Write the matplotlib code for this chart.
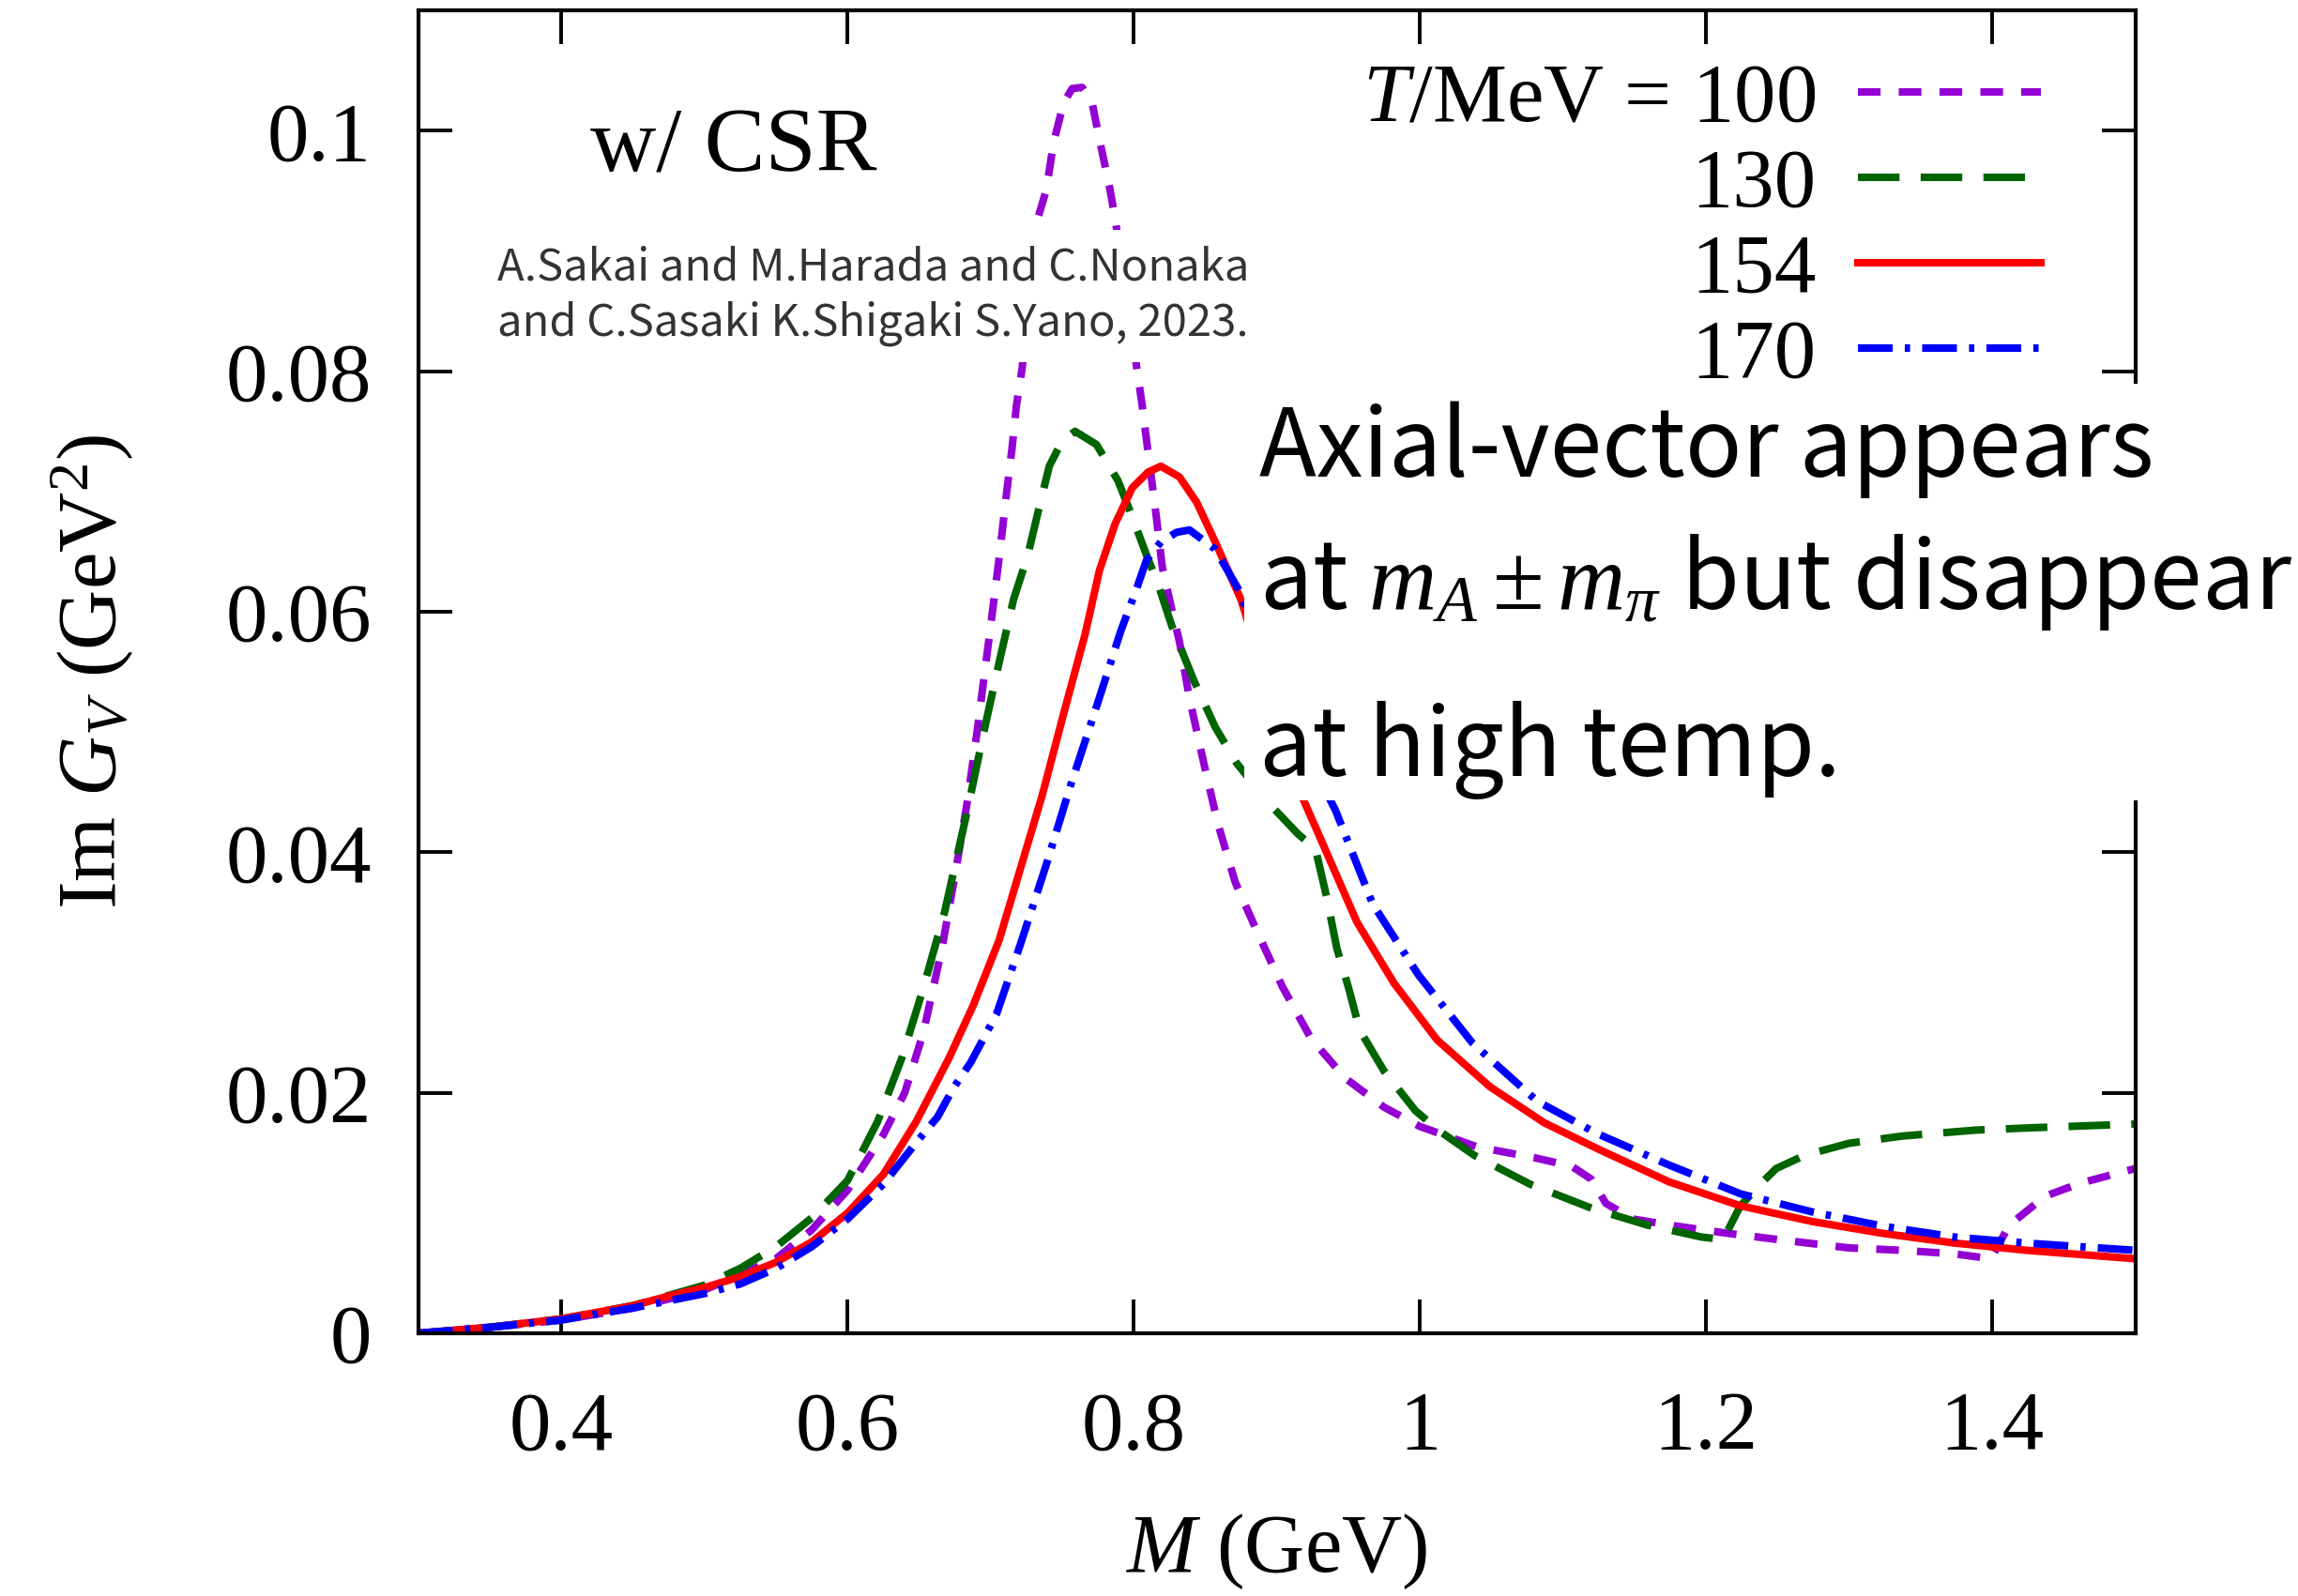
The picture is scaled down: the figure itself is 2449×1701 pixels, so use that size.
import numpy as np
import matplotlib
matplotlib.use("Agg")
import matplotlib.pyplot as plt
from matplotlib.patches import Rectangle

plt.rcParams['font.family'] = ['Liberation Serif', 'DejaVu Serif']
plt.rcParams['mathtext.fontset'] = 'custom'
plt.rcParams['mathtext.rm'] = 'Liberation Serif'
plt.rcParams['mathtext.it'] = 'Liberation Serif:italic'
plt.rcParams['mathtext.bf'] = 'Liberation Serif:bold'

# T = 100 MeV
m_100 = [0.30, 0.35, 0.40, 0.45, 0.50, 0.55, 0.575, 0.60, 0.625, 0.64, 0.653, 0.666,
         0.676, 0.684, 0.691, 0.696, 0.701, 0.706, 0.711, 0.715, 0.718, 0.722, 0.733,
         0.739, 0.744, 0.751, 0.757, 0.764, 0.771, 0.776, 0.783, 0.787, 0.802, 0.806,
         0.810, 0.8155, 0.820, 0.827, 0.832, 0.839, 0.849, 0.859, 0.871, 0.884, 0.904,
         0.924, 0.948, 0.975, 1.00, 1.04, 1.08, 1.106, 1.12, 1.13, 1.149, 1.18, 1.216,
         1.25, 1.30, 1.337, 1.374, 1.399, 1.412, 1.437, 1.462, 1.50]
g_100 = [0.0, 0.0005, 0.0011, 0.0021, 0.0036, 0.0062, 0.0086, 0.0119, 0.0165, 0.0200,
         0.0250, 0.0320, 0.0387, 0.0444, 0.0504, 0.0551, 0.0597, 0.0645, 0.0697, 0.0736,
         0.0771, 0.0802, 0.0927, 0.0951, 0.0990, 0.1023, 0.1035, 0.1036, 0.1023, 0.0993,
         0.0954, 0.0927, 0.0804, 0.0771, 0.0733, 0.0682, 0.0637, 0.0600, 0.0575, 0.0528,
         0.0474, 0.0423, 0.0375, 0.0340, 0.0288, 0.0245, 0.0212, 0.0188, 0.0172, 0.0155,
         0.0146, 0.0139, 0.0128, 0.0108, 0.0095, 0.0089, 0.0083, 0.0078, 0.0071, 0.0069,
         0.0066, 0.0062, 0.0090, 0.0114, 0.0125, 0.0137]

# T = 130 MeV
m_130 = [0.30, 0.35, 0.40, 0.45, 0.50, 0.525, 0.55, 0.575, 0.60, 0.621, 0.638, 0.653,
         0.668, 0.684, 0.696, 0.706, 0.716, 0.726, 0.733, 0.741, 0.750, 0.759, 0.774,
         0.789, 0.799, 0.809, 0.817, 0.827, 0.842, 0.857, 0.872, 0.895, 0.915, 0.927,
         0.935, 0.942, 0.950, 0.958, 0.975, 0.997, 1.014, 1.038, 1.077, 1.12, 1.159,
         1.197, 1.212, 1.224, 1.238, 1.249, 1.269, 1.30, 1.337, 1.389, 1.43, 1.50]
g_130 = [0.0, 0.0005, 0.0012, 0.0023, 0.0040, 0.0054, 0.0072, 0.0096, 0.0127, 0.0176,
         0.0229, 0.0287, 0.0351, 0.0436, 0.0504, 0.0558, 0.0610, 0.0647, 0.0682, 0.0721,
         0.0742, 0.0750, 0.0739, 0.0709, 0.0679, 0.0647, 0.0623, 0.0587, 0.0543, 0.0504,
         0.0474, 0.0440, 0.0415, 0.0403, 0.0362, 0.0320, 0.0288, 0.0252, 0.0218, 0.0185,
         0.0168, 0.0148, 0.0124, 0.0104, 0.0090, 0.0080, 0.0078, 0.0106, 0.0124, 0.0137,
         0.0148, 0.0158, 0.0164, 0.0169, 0.0171, 0.0174]

# T = 154 MeV
m_154 = [0.30, 0.35, 0.40, 0.45, 0.475, 0.50, 0.525, 0.55, 0.575, 0.60, 0.625, 0.648,
         0.671, 0.688, 0.706, 0.721, 0.736, 0.751, 0.766, 0.776, 0.787, 0.799, 0.810,
         0.819, 0.832, 0.844, 0.857, 0.875, 0.90, 0.9185, 0.934, 0.956, 0.982, 1.012,
         1.049, 1.087, 1.125, 1.174, 1.224, 1.274, 1.324, 1.374, 1.424, 1.50]
g_154 = [0.0, 0.0005, 0.0012, 0.0023, 0.0031, 0.0038, 0.0047, 0.0059, 0.0076, 0.0100,
         0.0132, 0.0176, 0.0229, 0.0273, 0.0327, 0.0387, 0.0447, 0.0515, 0.0581, 0.0634,
         0.0673, 0.0703, 0.0716, 0.0721, 0.0712, 0.0691, 0.0658, 0.0610, 0.0515, 0.0444,
         0.0402, 0.0342, 0.0291, 0.0244, 0.0205, 0.0175, 0.0153, 0.0126, 0.0106, 0.0093,
         0.0083, 0.0075, 0.0069, 0.0062]

# T = 170 MeV
m_170 = [0.30, 0.35, 0.40, 0.45, 0.50, 0.525, 0.55, 0.575, 0.60, 0.625, 0.649, 0.663,
         0.674, 0.686, 0.704, 0.721, 0.739, 0.756, 0.774, 0.791, 0.802, 0.809, 0.819,
         0.830, 0.839, 0.857, 0.8745, 0.90, 0.941, 0.967, 0.999, 1.037, 1.082, 1.124,
         1.174, 1.224, 1.274, 1.324, 1.374, 1.424, 1.50]
g_170 = [0.0, 0.0005, 0.0011, 0.0021, 0.0033, 0.0041, 0.0054, 0.0072, 0.0095, 0.0124,
         0.0160, 0.0180, 0.0204, 0.0225, 0.0265, 0.0324, 0.0390, 0.0456, 0.0521, 0.0584,
         0.0619, 0.0643, 0.0658, 0.0666, 0.0668, 0.0652, 0.0616, 0.0530, 0.0435, 0.0357,
         0.0298, 0.0241, 0.0193, 0.0166, 0.0140, 0.0116, 0.0101, 0.0089, 0.0080, 0.0075,
         0.0069]

labels = [r"$T$/MeV = 100", "130", "154", "170"]
colors = ["#9400d3", "#006400", "#ff0000", "#0000ff"]
styles = [(0, (3, 2.4)), (0, (5.5, 2.8)), "-", (0, (4.6, 1.6, 0.7, 1.6))]

xticks = [0.4, 0.6, 0.8, 1.0, 1.2, 1.4]
xticklabels = ["0.4", "0.6", "0.8", "1", "1.2", "1.4"]
yticks = [0, 0.02, 0.04, 0.06, 0.08, 0.1]
yticklabels = ["0", "0.02", "0.04", "0.06", "0.08", "0.1"]

note_lines = ["Axial-vector appears", "at $m_A \\pm m_\\pi$ but disappear", "at high temp."]
note_y = [0.6475, 0.5475, 0.4213]

fig = plt.figure(figsize=(12.245, 8.505), dpi=200)
ax = fig.add_axes([0.182, 0.1646, 0.7472, 0.8289])

series = [(m_100, g_100), (m_130, g_130), (m_154, g_154), (m_170, g_170)]
for (m, g), lab, c, ls in zip(series, labels, colors, styles):
  ax.plot(m, g, color=c, linestyle=ls, linewidth=2.9, label=lab)

ax.set_xlim(0.3, 1.5)
ax.set_ylim(0, 0.11)
ax.set_xticks(xticks)
ax.set_xticklabels(xticklabels)
ax.set_yticks(yticks)
ax.set_yticklabels(yticklabels)
ax.tick_params(direction="in", length=13, width=1.4, labelsize=32,
               top=True, right=True)
ax.tick_params(axis="x", pad=22)
ax.tick_params(axis="y", pad=18)
for s in ax.spines.values():
  s.set_linewidth(1.5)

ax.set_xlabel(r"$M$ (GeV)", fontsize=32)
ax.set_ylabel(r"Im $G_V$ (GeV$^2$)", fontsize=32)
ax.xaxis.set_label_coords(0.5, -0.135)
ax.yaxis.set_label_coords(-0.165, 0.5)

ax.text(0.100, 0.895, "w/ CSR", transform=ax.transAxes, fontsize=35, va="center")

ax.text(0.046, 0.823, "A.Sakai and M.Harada and C.Nonaka\nand C.Sasaki K.Shigaki S.Yano, 2023.",
        transform=ax.transAxes, fontsize=17, color="#333333", va="top", linespacing=1.3,
        family=["Noto Sans CJK JP", "DejaVu Sans"],
        bbox=dict(facecolor="white", edgecolor="none", pad=6))

ax.legend(loc="upper right", bbox_to_anchor=(0.95, 0.967), markerfirst=False, frameon=False,
          fontsize=32, handlelength=2.2, handletextpad=0.5, labelspacing=0.11,
          borderpad=0.1, borderaxespad=0)

# white panel behind the note, running off the right edge
ax.add_patch(Rectangle((0.481, 0.4028), 0.6, 0.315, transform=ax.transAxes,
                       facecolor="white", edgecolor="none", clip_on=False, zorder=5))
for line, yy in zip(note_lines, note_y):
  ax.text(0.490, yy, line, transform=ax.transAxes, fontsize=36, color="black",
          va="baseline", family=["Noto Sans CJK JP", "DejaVu Sans"],
          clip_on=False, zorder=6)

fig.savefig("out.png", dpi=200)
